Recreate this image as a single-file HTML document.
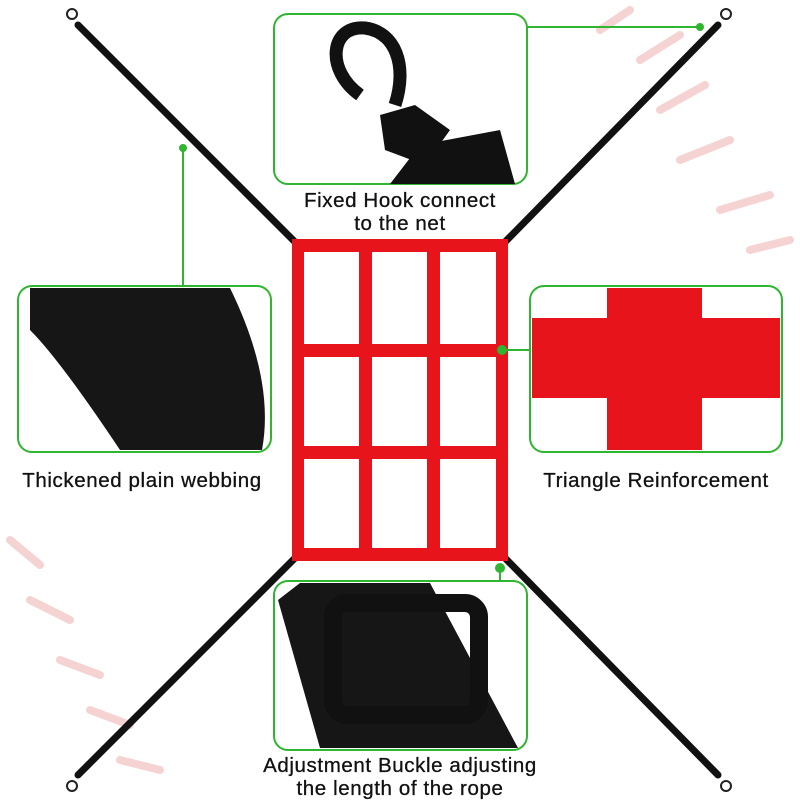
<!DOCTYPE html><html><head><style>body{margin:0;background:#fff}svg{display:block}text{font-family:"Liberation Sans",sans-serif;font-size:20.5px;fill:#111;letter-spacing:0.6px;stroke:#111;stroke-width:0.3px}</style></head><body>
<svg width="800" height="800" viewBox="0 0 800 800">
<g stroke="#f6d3d3" stroke-width="8" fill="none" stroke-linecap="round">
<path d="M600 30l30-20M640 60l40-25M660 110l45-25M680 160l50-20M720 210l50-15M750 250l40-10"/>
<path d="M10 540l30 25M30 600l40 20M60 660l40 15M90 710l40 15M120 760l40 10"/>
</g>
<g stroke="#111" stroke-width="7" stroke-linecap="round">
<line x1="78" y1="25" x2="295" y2="242"/><line x1="718" y1="25" x2="505" y2="242"/>
<line x1="295" y1="558" x2="78" y2="775"/><line x1="505" y1="558" x2="718" y2="775"/>
</g>
<g fill="none" stroke="#222" stroke-width="2"><circle cx="72" cy="14" r="5"/><circle cx="726" cy="14" r="5"/><circle cx="72" cy="786" r="5"/><circle cx="726" cy="786" r="5"/></g>
<g fill="#e8141c">
<rect x="292" y="239" width="216" height="13"/><rect x="292" y="344" width="216" height="13"/><rect x="292" y="446" width="216" height="13"/><rect x="292" y="548" width="216" height="13"/>
<rect x="292" y="239" width="12" height="322"/><rect x="359" y="239" width="13" height="322"/><rect x="427" y="239" width="13" height="322"/><rect x="496" y="239" width="12" height="322"/>
</g>
<g fill="#fff" stroke="#2fb52f" stroke-width="2">
<rect x="274" y="14" width="253" height="170" rx="14"/>
<rect x="18" y="286" width="253" height="166" rx="14"/>
<rect x="530" y="286" width="252" height="166" rx="14"/>
<rect x="274" y="581" width="253" height="169" rx="14"/>
</g>
<g fill="none" stroke="#2fb52f" stroke-width="2">
<polyline points="183,148 183,286"/><line x1="527" y1="27" x2="700" y2="27"/><line x1="500" y1="350" x2="530" y2="350"/><line x1="500" y1="568" x2="500" y2="581"/>
</g>
<g fill="#2fb52f"><circle cx="183" cy="148" r="4"/><circle cx="700" cy="27" r="4"/><circle cx="502" cy="350" r="5"/><circle cx="500" cy="568" r="5"/></g>
<!-- hook -->
<path d="M390 184 L420 145 L500 130 L515 184 Z" fill="#111"/>
<path d="M360 95 C325 70 330 25 365 28 C395 32 408 65 395 105" fill="none" stroke="#111" stroke-width="13"/>
<path d="M380 115 l35 -10 l35 25 l-25 35 l-40 -15 z" fill="#111"/>
<!-- webbing left -->
<path d="M30 288 L230 288 Q275 380 262 450 L120 450 Q60 360 30 330 Z" fill="#161616"/>
<!-- red cross -->
<rect x="607" y="288" width="95" height="162" fill="#e8141c"/>
<rect x="532" y="318" width="248" height="80" fill="#e8141c"/>
<!-- buckle -->
<path d="M278 600 L300 583 L430 583 L518 748 L320 748 Z" fill="#161616"/>
<rect x="333" y="603" width="146" height="112" rx="14" fill="none" stroke="#111" stroke-width="18"/>
<text x="400" y="207" text-anchor="middle">Fixed Hook connect</text>
<text x="400" y="230" text-anchor="middle">to the net</text>
<text x="142" y="487" text-anchor="middle">Thickened plain webbing</text>
<text x="656" y="487" text-anchor="middle">Triangle Reinforcement</text>
<text x="400" y="772" text-anchor="middle">Adjustment Buckle adjusting</text>
<text x="400" y="795" text-anchor="middle">the length of the rope</text>
</svg></body></html>
